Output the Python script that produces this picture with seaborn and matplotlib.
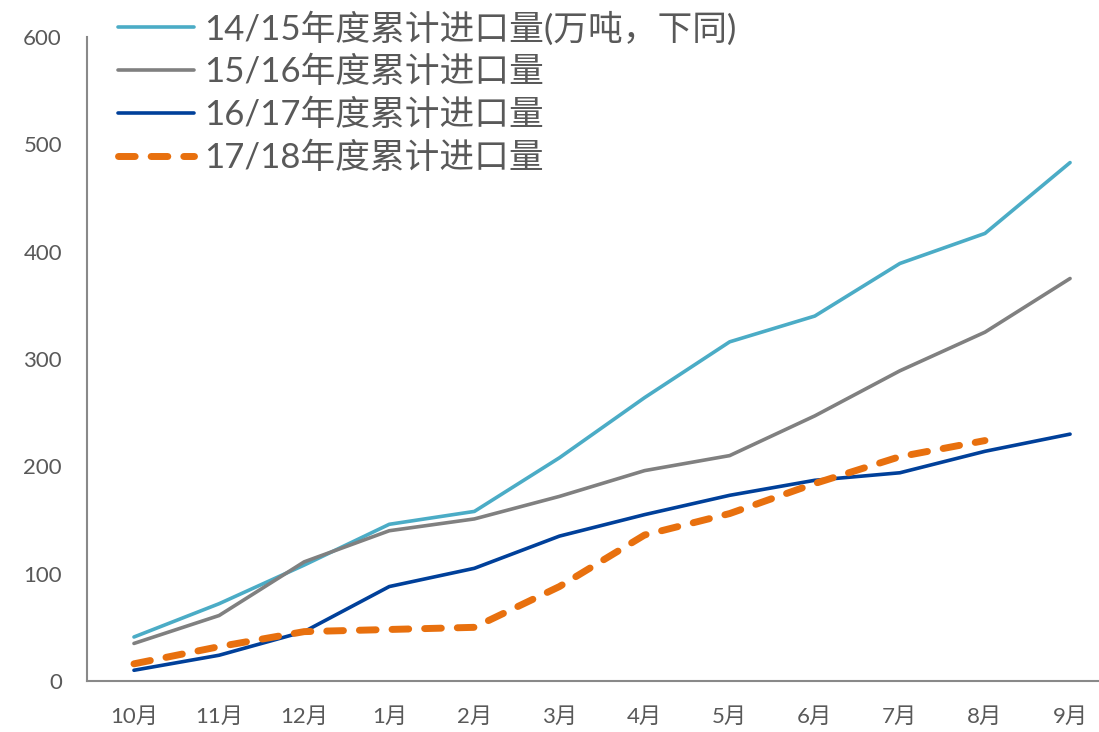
import numpy as np
import pandas as pd
import matplotlib
matplotlib.use("Agg")
import matplotlib.pyplot as plt
import seaborn as sns

months = ["10月", "11月", "12月", "1月", "2月", "3月", "4月", "5月", "6月", "7月", "8月", "9月"]
s1415 = [41, 72, 108, 146, 158, 208, 264, 316, 340, 389, 417, 483]
s1516 = [35, 61, 111, 140, 151, 172, 196, 210, 247, 289, 325, 375]
s1617 = [10, 24, 46, 88, 105, 135, 155, 173, 187, 194, 214, 230]
s1718 = [16, 32, 46, 48, 50, 88, 136, 156, 184, 209, 224, np.nan]
labels = ["14/15年度累计进口量(万吨，下同)", "15/16年度累计进口量", "16/17年度累计进口量", "17/18年度累计进口量"]
yticks = [0, 100, 200, 300, 400, 500, 600]

sns.set_style("white")
plt.rcParams["font.family"] = ["Lato", "Noto Sans CJK SC", "DejaVu Sans"]

fig = plt.figure(figsize=(10.99, 7.32), dpi=100)
ax = fig.add_axes([87/1099, 51/732, 1012/1099, 644/732])

colors = ["#4BACC6", "#808080", "#00409A", "#E8700E"]
series = [s1415, s1516, s1617, s1718]
x = np.arange(len(months))
for i, (vals, lab, col) in enumerate(zip(series, labels, colors)):
    df = pd.DataFrame({"x": x, "y": vals})
    if i < 3:
        sns.lineplot(data=df, x="x", y="y", ax=ax, color=col, linewidth=2.6, label=lab)
    else:
        sns.lineplot(data=df, x="x", y="y", ax=ax, color=col, linewidth=5, label=lab)
        line = ax.lines[-1]
        line.set_dashes([2.4, 2.3])
        line.set_dash_capstyle("round")

ax.set_xlim(-0.552, 11.34)
ax.set_ylim(0, 600)
ax.set_xticks(x)
ax.set_xticklabels(months)
ax.set_yticks(yticks)
ax.set_xlabel("")
ax.set_ylabel("")
ax.tick_params(axis="both", length=0, labelsize=16, colors="#595959")
ax.tick_params(axis="x", pad=19)
ax.tick_params(axis="y", pad=18)
for sp in ["top", "right"]:
    ax.spines[sp].set_visible(False)
for sp in ["left", "bottom"]:
    ax.spines[sp].set_color("#898989")
    ax.spines[sp].set_linewidth(1.5)

handles, labs = ax.get_legend_handles_labels()
ax.get_legend().remove()
leg = fig.legend(handles, labs, loc="upper left", bbox_to_anchor=(118/1099, 1 - 11/732),
                 frameon=False, fontsize=25, handlelength=2.2, handletextpad=0.28,
                 labelspacing=0.3, borderaxespad=0, borderpad=0)
for t in leg.get_texts():
    t.set_color("#595959")

fig.savefig("out.png", dpi=100)
